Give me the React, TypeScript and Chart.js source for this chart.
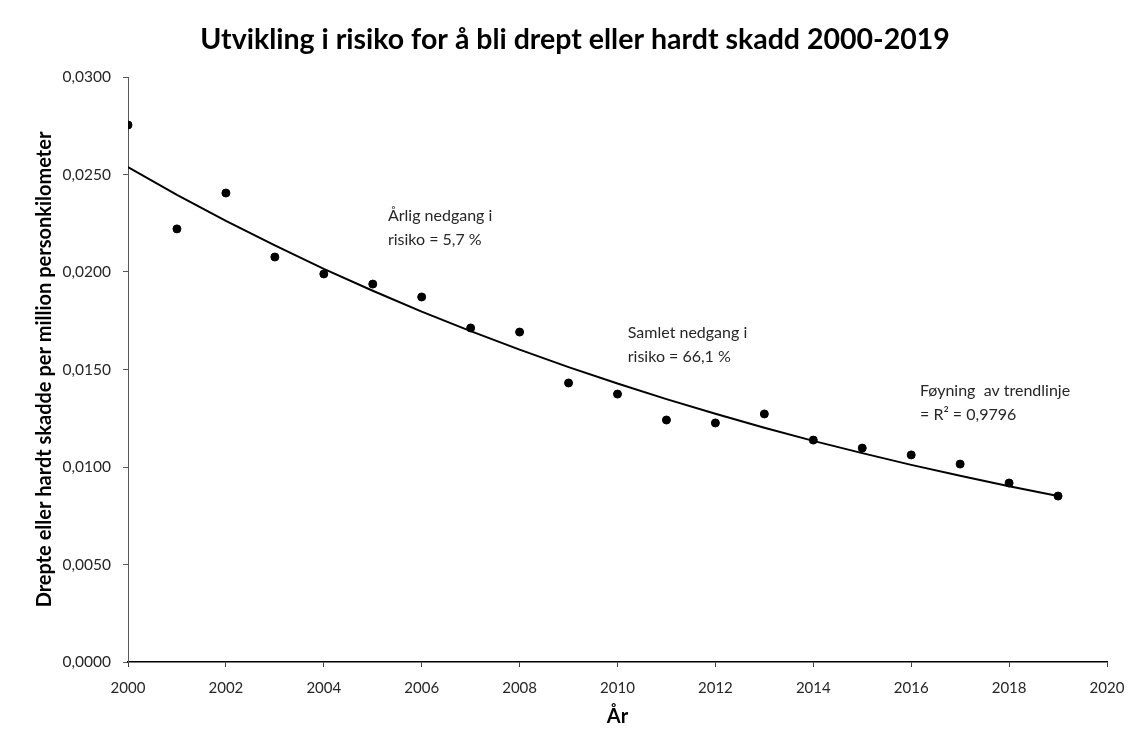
import React, { useEffect, useRef } from "react";
import { Chart, registerables } from "chart.js";

Chart.register(...registerables);

const years = [2000, 2001, 2002, 2003, 2004, 2005, 2006, 2007, 2008, 2009, 2010, 2011, 2012, 2013, 2014, 2015, 2016, 2017, 2018, 2019];
const risk = [0.02754, 0.02221, 0.02405, 0.02077, 0.0199, 0.01938, 0.01872, 0.01713, 0.01692, 0.01431, 0.01374, 0.01241, 0.01226, 0.01272, 0.01138, 0.01097, 0.01062, 0.01015, 0.00918, 0.00851];
const trend = [0.02538, 0.02396, 0.02262, 0.02136, 0.02016, 0.01904, 0.01797, 0.01697, 0.01602, 0.01512, 0.01428, 0.01348, 0.01273, 0.01201, 0.01134, 0.01071, 0.01011, 0.00955, 0.00901, 0.00851];

const titleText = "Utvikling i risiko for å bli drept eller hardt skadd 2000-2019";
const yTitle = "Drepte eller hardt skadde per million personkilometer";
const xTitle = "År";

const noteLines = [
  ["Årlig nedgang i", "risiko = 5,7 %"],
  ["Samlet nedgang i", "risiko = 66,1 %"],
  ["Føyning  av trendlinje", "= R² = 0,9796"],
];
const noteX = [2005.31, 2010.21, 2016.18];
const noteY = [0.02287, 0.01687, 0.0139];

const FONT = "Lato, 'Open Sans', sans-serif";

const notesPlugin = {
  id: "notes",
  afterDraw(chart: any) {
    const { ctx, scales } = chart;
    ctx.save();
    ctx.font = `bold 28.5px ${FONT}`;
    ctx.fillStyle = "#000";
    ctx.textAlign = "center";
    ctx.textBaseline = "middle";
    ctx.fillText(titleText, chart.width / 2 + 6, 40);
    ctx.font = `16px ${FONT}`;
    ctx.fillStyle = "#262626";
    ctx.textAlign = "left";
    noteLines.forEach((lines, i) => {
      const x = scales.x.getPixelForValue(noteX[i]);
      const y = scales.y.getPixelForValue(noteY[i]);
      lines.forEach((t, j) => ctx.fillText(t, x, y + j * 24));
    });
    ctx.restore();
  },
};

export default function App() {
  const ref = useRef<HTMLCanvasElement>(null);
  useEffect(() => {
    const chart = new Chart(ref.current!, {
      type: "scatter",
      data: {
        datasets: [
          {
            label: "Trend",
            data: years.map((y, i) => ({ x: y, y: trend[i] })),
            showLine: true,
            borderColor: "#000",
            borderWidth: 2,
            pointRadius: 0,
            fill: false,
          },
          {
            label: "Risiko",
            data: years.map((y, i) => ({ x: y, y: risk[i] })),
            backgroundColor: "#000",
            borderColor: "#000",
            pointRadius: 4,
            showLine: false,
          },
        ],
      },
      options: {
        animation: false,
        responsive: true,
        maintainAspectRatio: false,
        layout: { padding: { left: 0, right: 31, top: 77, bottom: 0 } },
        plugins: {
          legend: { display: false },
          tooltip: { enabled: false },
          title: { display: false },
        },
        scales: {
          x: {
            type: "linear",
            min: 2000,
            max: 2020,
            ticks: {
              stepSize: 2,
              color: "#262626",
              font: { family: FONT, size: 15 },
              padding: 12,
              callback: (v: any) => String(v),
            },
            grid: { drawOnChartArea: false, drawTicks: true, tickLength: 5, color: "#404040" },
            border: { display: true, color: "#000", width: 1.5 },
            title: {
              display: true,
              text: xTitle,
              color: "#000",
              font: { family: FONT, size: 20, weight: "bold" },
              padding: { top: 0, bottom: 13 },
            },
            afterFit: (s: any) => {
              s.height = 80;
            },
          },
          y: {
            min: 0,
            max: 0.03,
            ticks: {
              stepSize: 0.005,
              color: "#262626",
              font: { family: FONT, size: 15.5 },
              padding: 12,
              callback: (v: any) => Number(v).toFixed(4).replace(".", ","),
            },
            grid: { drawOnChartArea: false, drawTicks: true, tickLength: 5, color: "#595959" },
            border: { display: true, color: "#595959", width: 1 },
            title: {
              display: true,
              text: yTitle,
              color: "#000",
              font: { family: FONT, size: 20, weight: "bold" },
              padding: { top: 33, bottom: 0 },
            },
            afterFit: (s: any) => {
              s.width = 128;
            },
          },
        },
      },
      plugins: [notesPlugin],
    } as any);
    return () => chart.destroy();
  }, []);
  return (
    <div style={{ position: "fixed", left: 0, top: 0, width: 1138, height: 742, background: "#fff" }}>
      <canvas ref={ref} />
    </div>
  );
}
